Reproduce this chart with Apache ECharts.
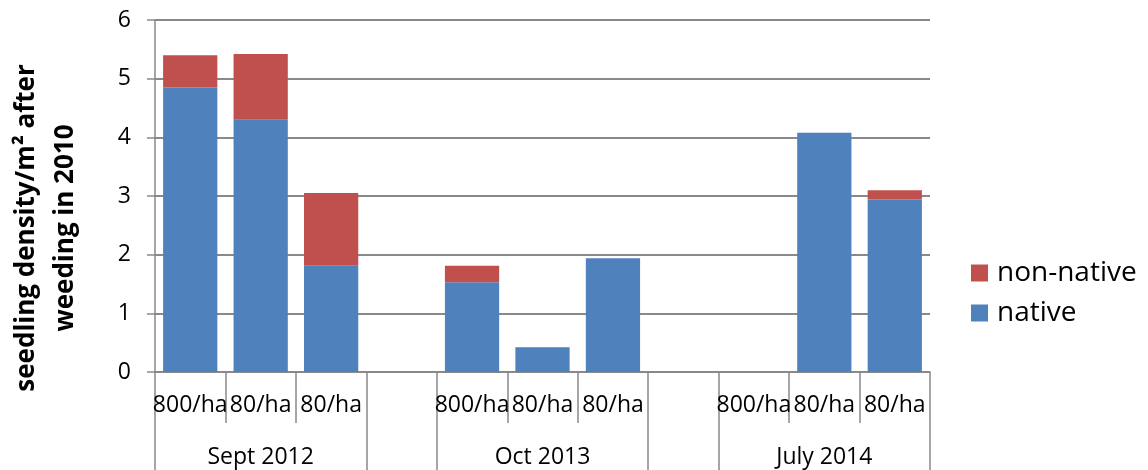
<!DOCTYPE html>
<html>
<head>
<meta charset="utf-8">
<script src="https://cdn.jsdelivr.net/npm/echarts@6/dist/echarts.min.js"></script>
<style>
  html, body { margin: 0; padding: 0; background: #fff; }
  #chart { width: 1148px; height: 470px; }
</style>
</head>
<body>
<div id="chart"></div>
<script>
const categories = ['800/ha', '80/ha', '80/ha', '', '800/ha', '80/ha', '80/ha', '', '800/ha', '80/ha', '80/ha'];
const groupLabels = ['', 'Sept 2012', '', '', '', 'Oct 2013', '', '', '', 'July 2014', ''];
const groupEdges = [0, 3, 4, 7, 8];
const native = [4.85, 4.3, 1.81, null, 1.53, 0.42, 1.94, null, 0, 4.08, 2.94];
const nonNative = [0.55, 1.12, 1.24, null, 0.28, null, null, null, null, null, 0.16];

const axisGray = '#898989';
const font = '"Open Sans", sans-serif';

const chart = echarts.init(document.getElementById('chart'), null, { renderer: 'canvas' });

const option = {
  animation: false,
  textStyle: { fontFamily: font },
  grid: { left: 155, right: 218, top: 20, bottom: 98, outerBoundsMode: 'none', containLabel: false },
  legend: {
    orient: 'vertical',
    left: 966,
    top: 254,
    itemWidth: 17,
    itemHeight: 17,
    itemGap: 12,
    icon: 'rect',
    data: ['non-native', 'native'],
    textStyle: { fontFamily: font, fontSize: 28, color: '#000', padding: [0, 0, 0, 4] }
  },
  xAxis: [
    {
      type: 'category',
      data: categories,
      position: 'bottom',
      axisLine: { show: true, lineStyle: { color: axisGray, width: 1.5 } },
      axisTick: { show: true, interval: 0, length: 51, lineStyle: { color: axisGray, width: 1.5 } },
      axisLabel: { interval: 0, margin: 22, fontSize: 23, color: '#000', fontFamily: font }
    },
    {
      type: 'category',
      data: groupLabels,
      position: 'bottom',
      offset: 51,
      axisLine: { show: false },
      axisTick: {
        show: true,
        length: 47,
        interval: function (index) { return groupEdges.indexOf(index) >= 0; },
        lineStyle: { color: axisGray, width: 1.5 }
      },
      axisLabel: { interval: 0, margin: 23, fontSize: 23, color: '#000', fontFamily: font }
    }
  ],
  yAxis: {
    type: 'value',
    min: 0,
    max: 6,
    interval: 1,
    name: 'seedling density/m² after\nweeding in 2010',
    nameLocation: 'middle',
    nameRotate: 90,
    nameGap: 70,
    nameTextStyle: {
      fontFamily: font, fontSize: 26, fontWeight: 'bold', color: '#000',
      lineHeight: 39, padding: [0, 64, 0, 0]
    },
    axisLine: { show: true, lineStyle: { color: axisGray, width: 1.5 } },
    axisTick: { show: true, length: 8, lineStyle: { color: axisGray, width: 1.5 } },
    axisLabel: { margin: 24, fontSize: 23, color: '#000', fontFamily: font },
    splitLine: { show: true, lineStyle: { color: axisGray, width: 2 } }
  },
  series: [
    {
      name: 'native',
      type: 'bar',
      stack: 'total',
      barCategoryGap: '23%',
      itemStyle: { color: '#4f81bd' },
      data: native
    },
    {
      name: 'non-native',
      type: 'bar',
      stack: 'total',
      barCategoryGap: '23%',
      itemStyle: { color: '#c0504d' },
      data: nonNative
    }
  ]
};

chart.setOption(option);
</script>
</body>
</html>
